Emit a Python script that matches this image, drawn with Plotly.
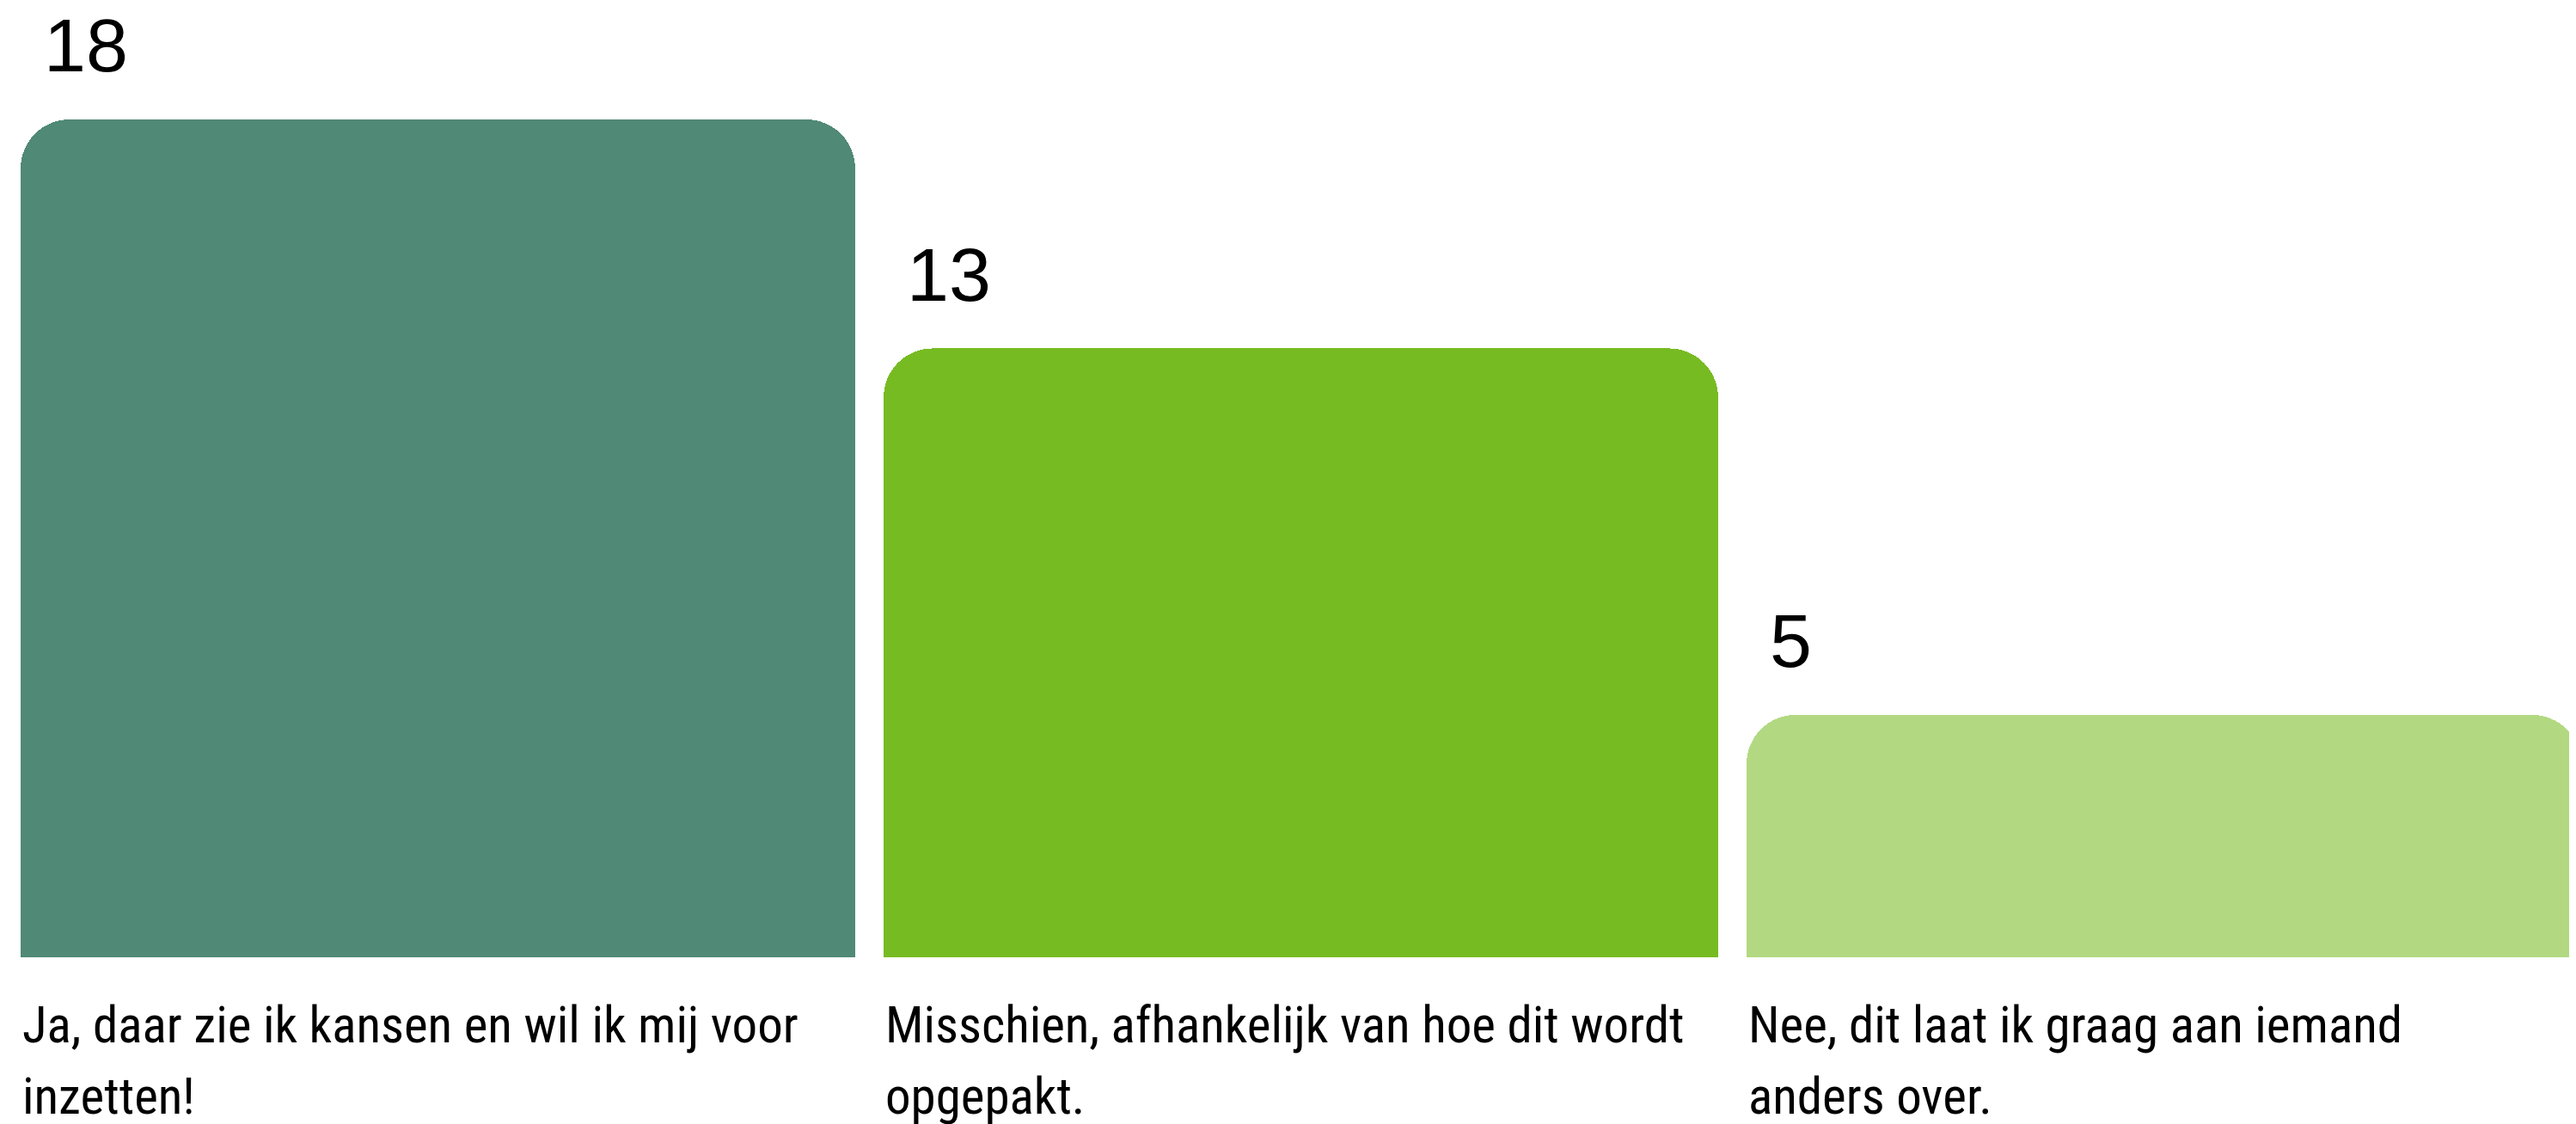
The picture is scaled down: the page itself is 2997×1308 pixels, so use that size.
import plotly.graph_objects as go

# ---- data ----
categories = [
    "Ja, daar zie ik kansen en wil ik mij voor<br>inzetten!",
    "Misschien, afhankelijk van hoe dit wordt<br>opgepakt.",
    "Nee, dit laat ik graag aan iemand<br>anders over.",
]
values = [18, 13, 5]
colors = ["#508976", "#77BB22", "#B2D982"]

# ---- style ----
BAR_WIDTH = 0.967
FOOT = 0.293          # small constant foot under every bar (visual style)
NUM_FONT = dict(family="Liberation Sans, Arial, sans-serif", size=88, color="#000000")
CAT_FONT = dict(family="Liberation Sans Narrow, Arial Narrow, Roboto Condensed, sans-serif",
                size=59, color="#000000")

xs = list(range(len(values)))

fig = go.Figure()
# foot segment (square bottom)
fig.add_trace(go.Bar(
    x=xs, y=[FOOT] * len(values), width=BAR_WIDTH,
    marker=dict(color=colors, line=dict(width=0)), hoverinfo="skip",
))
# value segment (rounded top)
fig.add_trace(go.Bar(
    x=xs, y=values, width=BAR_WIDTH,
    marker=dict(color=colors, line=dict(width=0)), hoverinfo="skip",
))

annotations = []
for i, (v, lab) in enumerate(zip(values, categories)):
    left = xs[i] - BAR_WIDTH / 2
    annotations.append(dict(
        x=left, y=v + FOOT, xref="x", yref="y", text=str(v), showarrow=False,
        xanchor="left", yanchor="middle", xshift=25, yshift=86, font=NUM_FONT,
    ))
    for j, line in enumerate(lab.split("<br>")):
        annotations.append(dict(
            x=left, y=0, xref="x", yref="y", text=line, showarrow=False,
            xanchor="left", yanchor="middle", xshift=0, yshift=-79 - 83 * j, font=CAT_FONT,
        ))

fig.update_layout(
    width=2997, height=1300,
    margin=dict(l=0, r=0, t=0, b=0),
    paper_bgcolor="white", plot_bgcolor="white",
    showlegend=False,
    barmode="stack",
    barcornerradius=57,
    xaxis=dict(visible=False, range=[-0.4995, 2.4856]),
    yaxis=dict(visible=False, range=[-3.64, 20.75]),
    annotations=annotations,
)

fig.write_html("out.html")
